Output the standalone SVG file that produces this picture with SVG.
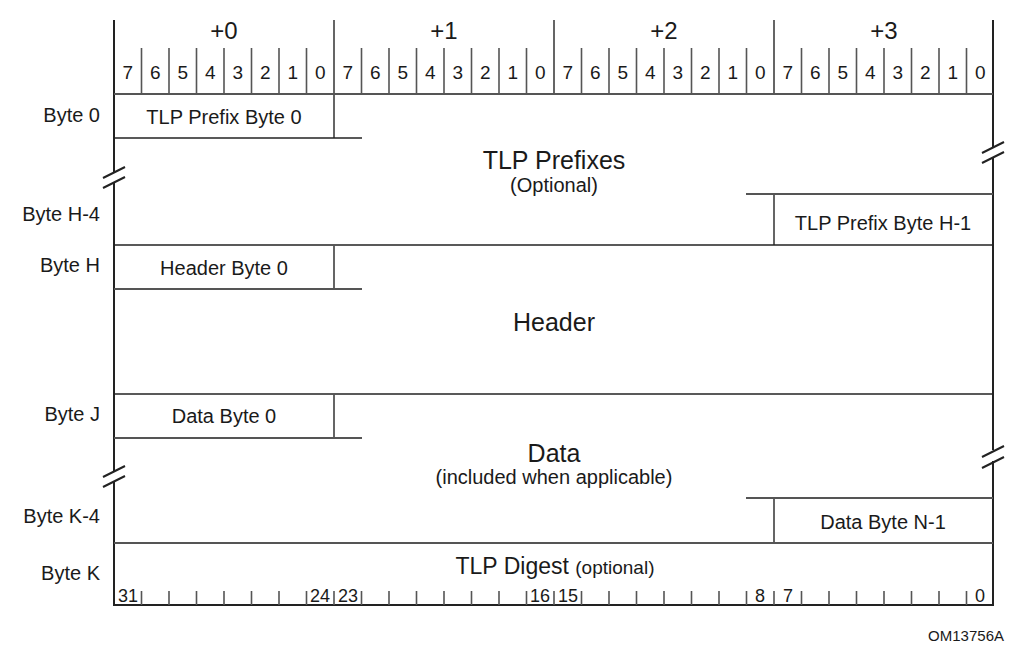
<svg xmlns="http://www.w3.org/2000/svg" width="1032" height="647" viewBox="0 0 1032 647">
<style>
text{font-family:"Liberation Sans",Arial,sans-serif;fill:#1a1a1a}
.b{stroke:#222;stroke-width:2;fill:none}
.i{stroke:#555;stroke-width:1.8;fill:none}
.t{stroke:#555;stroke-width:1.6;fill:none}
.bit{font-size:19px;text-anchor:middle}
.lbl{font-size:20px;text-anchor:end}
.cell{font-size:20px;text-anchor:middle}
.big{font-size:25px;text-anchor:middle}
.sub{font-size:20px;text-anchor:middle}
.rl{font-size:18px;text-anchor:middle}
</style>
<g id="header">
<text x="224" y="39" class="big" style="font-size:24px">+0</text>
<text x="444" y="39" class="big" style="font-size:24px">+1</text>
<text x="664" y="39" class="big" style="font-size:24px">+2</text>
<text x="884" y="39" class="big" style="font-size:24px">+3</text>
<path class="i" d="M334,20V94M554,20V94M774,20V94"/>
<path class="t" d="M141.5,48V94M169,48V94M196.5,48V94M224,48V94M251.5,48V94M279,48V94M306.5,48V94M361.5,48V94M389,48V94M416.5,48V94M444,48V94M471.5,48V94M499,48V94M526.5,48V94M581.5,48V94M609,48V94M636.5,48V94M664,48V94M691.5,48V94M719,48V94M746.5,48V94M801.5,48V94M829,48V94M856.5,48V94M884,48V94M911.5,48V94M939,48V94M966.5,48V94"/>
<g class="bit">
<text x="127.75" y="79">7</text><text x="155.25" y="79">6</text><text x="182.75" y="79">5</text><text x="210.25" y="79">4</text><text x="237.75" y="79">3</text><text x="265.25" y="79">2</text><text x="292.75" y="79">1</text><text x="320.25" y="79">0</text>
<text x="347.75" y="79">7</text><text x="375.25" y="79">6</text><text x="402.75" y="79">5</text><text x="430.25" y="79">4</text><text x="457.75" y="79">3</text><text x="485.25" y="79">2</text><text x="512.75" y="79">1</text><text x="540.25" y="79">0</text>
<text x="567.75" y="79">7</text><text x="595.25" y="79">6</text><text x="622.75" y="79">5</text><text x="650.25" y="79">4</text><text x="677.75" y="79">3</text><text x="705.25" y="79">2</text><text x="732.75" y="79">1</text><text x="760.25" y="79">0</text>
<text x="787.75" y="79">7</text><text x="815.25" y="79">6</text><text x="842.75" y="79">5</text><text x="870.25" y="79">4</text><text x="897.75" y="79">3</text><text x="925.25" y="79">2</text><text x="952.75" y="79">1</text><text x="980.25" y="79">0</text>
</g>
</g>
<g id="row-labels">
<text x="100" y="122" class="lbl">Byte 0</text>
<text x="100" y="221" class="lbl">Byte H-4</text>
<text x="100" y="272" class="lbl">Byte H</text>
<text x="100" y="421" class="lbl">Byte J</text>
<text x="100" y="523" class="lbl">Byte K-4</text>
<text x="100" y="580" class="lbl">Byte K</text>
</g>
<g id="frame">
<path class="b" d="M114,20V172M114,182V471M114,481V605M993,20V147M993,158V450M993,461V605M113,605H994"/>
<path class="b" d="M103,178L125,167M103,188L125,177M103,477L125,466M103,487L125,476"/>
<path class="b" d="M982,153L1004,142M982,163L1004,152M982,457L1004,446M982,468L1004,457"/>
</g>
<g id="prefix-byte0">
<path class="i" d="M114,94H993M334,94V138"/>
<path class="b" style="stroke-width:1.6" d="M114,138H362"/>
<text x="224" y="124" class="cell">TLP Prefix Byte 0</text>
</g>
<g id="tlp-prefixes">
<text x="554" y="169" class="big">TLP Prefixes</text>
<text x="554" y="192" class="sub">(Optional)</text>
</g>
<g id="prefix-byteH1">
<path class="i" d="M746,194H993M774,194V245"/>
<text x="883" y="230" class="cell">TLP Prefix Byte H-1</text>
</g>
<g id="header-byte0">
<path class="b" style="stroke-width:1.6" d="M114,245H993"/>
<path class="i" d="M334,245V289M114,289H362"/>
<text x="224" y="275" class="cell">Header Byte 0</text>
</g>
<g id="header-block">
<text x="554" y="331" class="big">Header</text>
</g>
<g id="data-byte0">
<path class="b" style="stroke-width:1.6" d="M114,394H993"/>
<path class="i" d="M334,394V438M114,438H362"/>
<text x="224" y="423" class="cell">Data Byte 0</text>
</g>
<g id="data-block">
<text x="554" y="462" class="big">Data</text>
<text x="554" y="484" class="sub">(included when applicable)</text>
</g>
<g id="data-byteN1">
<path class="i" d="M746,498H993M774,498V543"/>
<text x="883" y="529" class="cell">Data Byte N-1</text>
</g>
<g id="digest">
<path class="i" d="M114,543H993"/>
<text x="555" y="574" class="big" style="font-size:23px">TLP Digest <tspan style="font-size:19px">(optional)</tspan></text>
<path class="t" d="M141.5,591V605M169,591V605M196.5,591V605M224,591V605M251.5,591V605M279,591V605M306.5,591V605M334,591V605M361.5,591V605M389,591V605M416.5,591V605M444,591V605M471.5,591V605M499,591V605M526.5,591V605M554,591V605M581.5,591V605M609,591V605M636.5,591V605M664,591V605M691.5,591V605M719,591V605M746.5,591V605M774,591V605M801.5,591V605M829,591V605M856.5,591V605M884,591V605M911.5,591V605M939,591V605M966.5,591V605"/>
<g class="rl">
<text x="128" y="602">31</text><text x="320" y="602">24</text><text x="348" y="602">23</text>
<text x="540" y="602">16</text><text x="568" y="602">15</text>
<text x="760" y="602">8</text><text x="788" y="602">7</text><text x="980" y="602">0</text>
</g>
</g>
<text x="1004" y="641" style="font-size:15px;text-anchor:end">OM13756A</text>
</svg>
